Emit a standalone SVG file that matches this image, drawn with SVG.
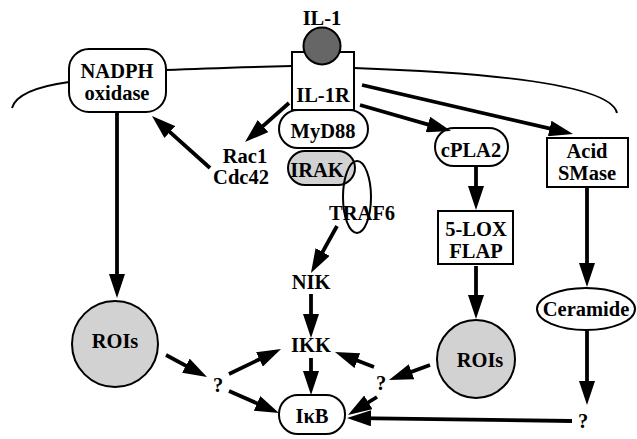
<svg xmlns="http://www.w3.org/2000/svg" width="637" height="439" viewBox="0 0 637 439">
<style>
.t{font-family:"Liberation Serif","Times New Roman",serif;font-weight:bold;font-size:20.5px;fill:#000;text-anchor:middle}
.s{fill:#fff;stroke:#000;stroke-width:2}
.g{fill:#d2d2d2;stroke:#000;stroke-width:2}
.m{fill:none;stroke:#000;stroke-width:2}
.a{fill:none;stroke:#000;stroke-width:3.8;marker-end:url(#ah)}
</style>
<defs>
<marker id="ah" markerUnits="userSpaceOnUse" markerWidth="24" markerHeight="16" viewBox="0 0 24 16" refX="14" refY="8" orient="auto">
<path d="M0,0 L24,8 L0,16 z" fill="#000"/>
</marker>
</defs>
<g id="membrane">
<path class="m" d="M12,108 C16,94 40,86 69,82"/>
<path class="m" d="M166,70 C210,68 250,67 292,66"/>
<path class="m" d="M354,68 C470,72 610,82 617,113"/>
</g>
<g id="nadph"><rect class="s" x="69" y="49" width="97" height="63" rx="20"/><text class="t" x="117" y="78">NADPH</text><text class="t" x="117" y="100">oxidase</text></g>
<g id="il1r"><rect class="s" x="292" y="52" width="62" height="58"/><text class="t" x="323" y="102">IL-1R</text></g>
<g id="il1"><circle cx="322" cy="46" r="18.5" fill="#666" stroke="#000" stroke-width="2"/><text class="t" x="322" y="25">IL-1</text></g>
<g id="myd88"><rect class="s" x="279" y="110" width="89" height="38" rx="19"/><text class="t" x="323" y="138">MyD88</text></g>
<g id="irak"><rect class="g" x="288" y="151" width="67" height="34" rx="17"/><text class="t" x="317" y="177">IRAK</text></g>
<g id="traf6"><ellipse cx="357" cy="197" rx="14" ry="36" fill="none" stroke="#000" stroke-width="2"/><text class="t" x="362" y="220">TRAF6</text></g>
<g id="rac1"><text class="t" x="245" y="163">Rac1</text><text class="t" x="241" y="184">Cdc42</text></g>
<g id="rois1"><circle class="g" cx="115" cy="344" r="43"/><text class="t" x="115" y="348">ROIs</text></g>
<g id="q1"><text class="t" x="218" y="392">?</text></g>
<g id="nik"><text class="t" x="311" y="289">NIK</text></g>
<g id="ikk"><text class="t" x="311" y="352">IKK</text></g>
<g id="ikb"><rect class="s" x="279" y="395" width="66" height="39" rx="19"/><text class="t" x="312" y="423">IκB</text></g>
<g id="q2"><text class="t" x="381" y="390">?</text></g>
<g id="rois2"><circle class="g" cx="476" cy="359" r="39"/><text class="t" x="480" y="367">ROIs</text></g>
<g id="lox"><rect class="s" x="438" y="211" width="75" height="53"/><text class="t" x="476" y="236">5-LOX</text><text class="t" x="476" y="258">FLAP</text></g>
<g id="cpla2"><rect class="s" x="435" y="128" width="73" height="38" rx="19"/><text class="t" x="471" y="157">cPLA2</text></g>
<g id="smase"><rect class="s" x="547" y="138" width="81" height="49"/><text class="t" x="587" y="158">Acid</text><text class="t" x="587" y="180">SMase</text></g>
<g id="ceramide"><ellipse class="s" cx="586" cy="309" rx="49" ry="21"/><text class="t" x="586" y="316">Ceramide</text></g>
<g id="q3"><text class="t" x="583" y="428">?</text></g>
<g id="connectors">
<path class="a" d="M289,103 L252.5,135.4"/>
<path class="a" d="M210,168 L159.4,122.7"/>
<path class="a" d="M117,112 L117,288"/>
<path class="a" d="M166,355 L198.2,372.3"/>
<path class="a" d="M229,374 L272,353.3"/>
<path class="a" d="M229,391 L269.8,409"/>
<path class="a" d="M337,226 L315.8,264.2"/>
<path class="a" d="M311,294 L311,328"/>
<path class="a" d="M311,358 L311,385"/>
<path class="a" d="M374,367 L344.3,355.6"/>
<path class="a" d="M377,397 L356.5,409.7"/>
<path class="a" d="M430,365 L398.4,376.6"/>
<path class="a" d="M360,105 L441.4,128.3"/>
<path class="a" d="M362,85 L563.3,131.7"/>
<path class="a" d="M476,166 L476,200"/>
<path class="a" d="M476,266 L476,309"/>
<path class="a" d="M587,187 L587,277"/>
<path class="a" d="M587,331 L587,395"/>
<path class="a" d="M572,421 L357,418.1"/>
</g>
</svg>
